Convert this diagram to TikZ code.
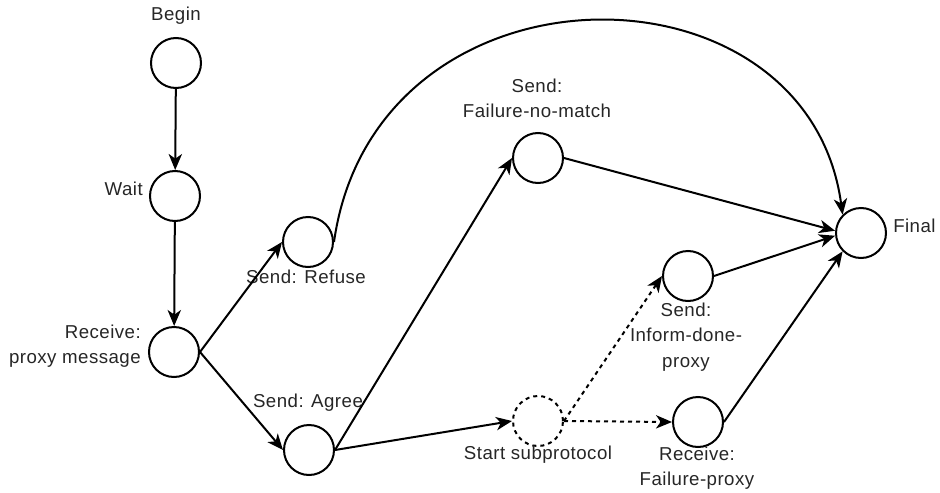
\documentclass[tikz,border=0pt]{standalone}
\usepackage{fontspec}
\setmainfont{Liberation Sans}[LetterSpace=2.5]
\usetikzlibrary{arrows.meta}
\begin{document}
\begin{tikzpicture}[x=0.75pt,y=-0.75pt,
  state/.style={circle,draw,line width=1.5pt,minimum size=37.5pt,inner sep=0pt},
  substate/.style={state,dash pattern=on 3pt off 3pt},
  lbl/.style={inner sep=0pt,font=\fontsize{14}{19}\selectfont,text=black!85},
  conn/.style={line width=1.5pt,-{Stealth[length=12pt,width=10pt,inset=3.5pt]}},
  dconn/.style={conn,dash pattern=on 3pt off 3pt}]
\useasboundingbox (0,0) rectangle (940,493);
% states
\node[state] (begin) at (176,63) {};
\node[state] (wait) at (175,196) {};
\node[state] (receive) at (174,352) {};
\node[state] (refuse) at (308,242) {};
\node[state] (agree) at (309,450) {};
\node[state] (fnm) at (538,158) {};
\node[substate] (start) at (538,421) {};
\node[state] (inform) at (688,276) {};
\node[state] (fproxy) at (698,422) {};
\node[state] (final) at (861,233) {};
% labels
\node[lbl] (lbegin) at (176,16) {Begin};
\node[lbl,anchor=east] (lwait) at (143,189) {Wait};
\node[lbl,align=right,anchor=east] (lreceive) at (141,346) {Receive:\\proxy message};
\node[lbl] (lrefuse) at (306,277) {Send: Refuse};
\node[lbl] (lagree) at (308,403) {Send: Agree};
\node[lbl] (lstart) at (538,455) {Start subprotocol};
\node[lbl,align=center] (linform) at (686,337) {Send:\\Inform-done-\\proxy};
\node[lbl,align=center] (lfproxy) at (697,468) {Receive:\\Failure-proxy};
\node[lbl,align=center] (lfnm) at (537,98) {Send:\\Failure-no-match};
\node[lbl,anchor=west] (lfinal) at (893,226) {Final};
% connectors
\draw[conn] (begin) -- (wait);
\draw[conn] (wait) -- (receive);
\draw[conn] (receive.east) -- (refuse.west);
\draw[conn] (receive.east) -- (agree.west);
\draw[conn] (refuse.east) .. controls (375,-48) and (807,-48) .. (final.north west);
\draw[conn] (agree.east) -- (fnm.west);
\draw[conn] (agree.east) -- (start.west);
\draw[conn] (fnm.east) -- (final.175);
\draw[dconn] (start.east) -- (inform.west);
\draw[dconn] (start.east) -- (fproxy.west);
\draw[conn] (inform.east) -- (final.186);
\draw[conn] (fproxy.east) -- (final.south west);
\end{tikzpicture}
\end{document}
